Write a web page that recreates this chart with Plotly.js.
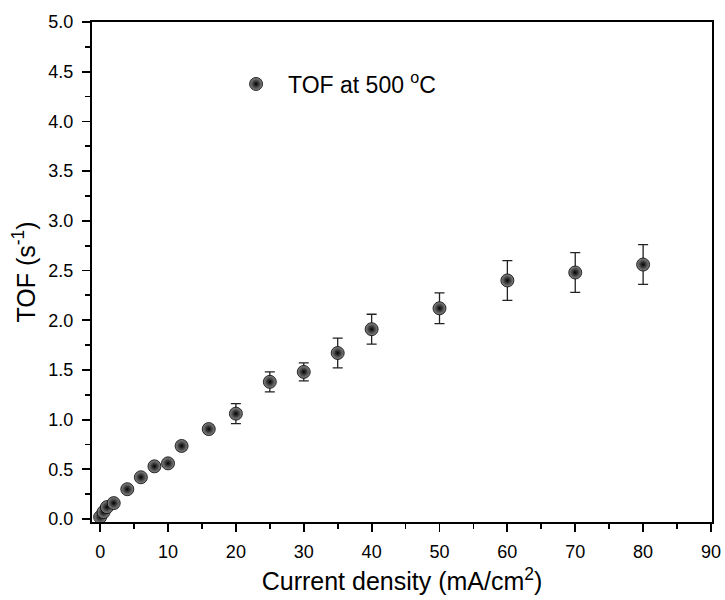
<!DOCTYPE html>
<html>
<head>
<meta charset="utf-8">
<script src="https://cdn.plot.ly/plotly-3.0.1.min.js"></script>
<style>html,body{margin:0;padding:0;background:#fff;}</style>
</head>
<body>
<div id="chart" style="width:725px;height:600px;"></div>
<script>
const currentDensity = [0, 0.5, 1, 2, 4, 6, 8, 10, 12, 16, 20, 25, 30, 35, 40, 50, 60, 70, 80];
const tof = [0.02, 0.07, 0.12, 0.16, 0.30, 0.42, 0.53, 0.56, 0.735, 0.905, 1.06, 1.38, 1.48, 1.67, 1.91, 2.12, 2.40, 2.48, 2.56];
const tofErr = [0.01, 0.01, 0.01, 0.02, 0.02, 0.02, 0.03, 0.03, 0.04, 0.04, 0.10, 0.10, 0.09, 0.15, 0.15, 0.155, 0.20, 0.20, 0.20];
const seriesName = 'TOF at 500 <sup>o</sup>C';

const ballTrace = {
  x: currentDensity,
  y: tof,
  type: 'scatter',
  mode: 'markers',
  name: seriesName,
  marker: {
    size: 13,
    color: '#8a8a8a',
    gradient: {type: 'radial', color: '#000000'},
    line: {width: 0.8, color: '#000'}
  },
  error_y: {
    type: 'data',
    array: tofErr,
    visible: true,
    color: '#222',
    thickness: 1.3,
    width: 5
  }
};

const FONT = 'Arial, Liberation Sans, sans-serif';
const tickFont = {family: FONT, size: 18, color: '#000'};
const titleFont = {family: FONT, size: 25, color: '#000'};
const layout = {
  width: 725,
  height: 600,
  margin: {l: 92, r: 13, t: 22, b: 78},
  paper_bgcolor: '#fff',
  plot_bgcolor: '#fff',
  showlegend: true,
  legend: {
    x: 0.213, y: 0.876, xanchor: 'left', yanchor: 'middle',
    font: {family: FONT, size: 23, color: '#000'},
    bgcolor: 'rgba(0,0,0,0)', itemwidth: 54
  },
  xaxis: {
    range: [-1.2, 90.15],
    dtick: 10, tick0: 0,
    ticks: 'outside', ticklen: 8, tickwidth: 1.8, tickcolor: '#000',
    ticklabelstandoff: 4,
    minor: {dtick: 5, ticks: 'outside', ticklen: 5, tickwidth: 1.8, tickcolor: '#000'},
    showline: true, linecolor: '#000', linewidth: 2.2, mirror: true,
    showgrid: false, zeroline: false,
    tickfont: tickFont,
    title: {text: 'Current density (mA/cm<sup>2</sup>)', font: titleFont, standoff: 12}
  },
  yaxis: {
    range: [-0.03, 5.0],
    dtick: 0.5, tick0: 0,
    tickformat: '.1f',
    ticks: 'outside', ticklen: 8, tickwidth: 1.8, tickcolor: '#000',
    ticklabelstandoff: 5,
    minor: {dtick: 0.25, ticks: 'outside', ticklen: 5, tickwidth: 1.8, tickcolor: '#000'},
    showline: true, linecolor: '#000', linewidth: 2.2, mirror: true,
    showgrid: false, zeroline: false,
    tickfont: tickFont,
    title: {text: 'TOF (s<sup>-1</sup>)', font: titleFont, standoff: 6}
  }
};

Plotly.newPlot('chart', [ballTrace], layout, {displayModeBar: false, staticPlot: true});
</script>
</body>
</html>
